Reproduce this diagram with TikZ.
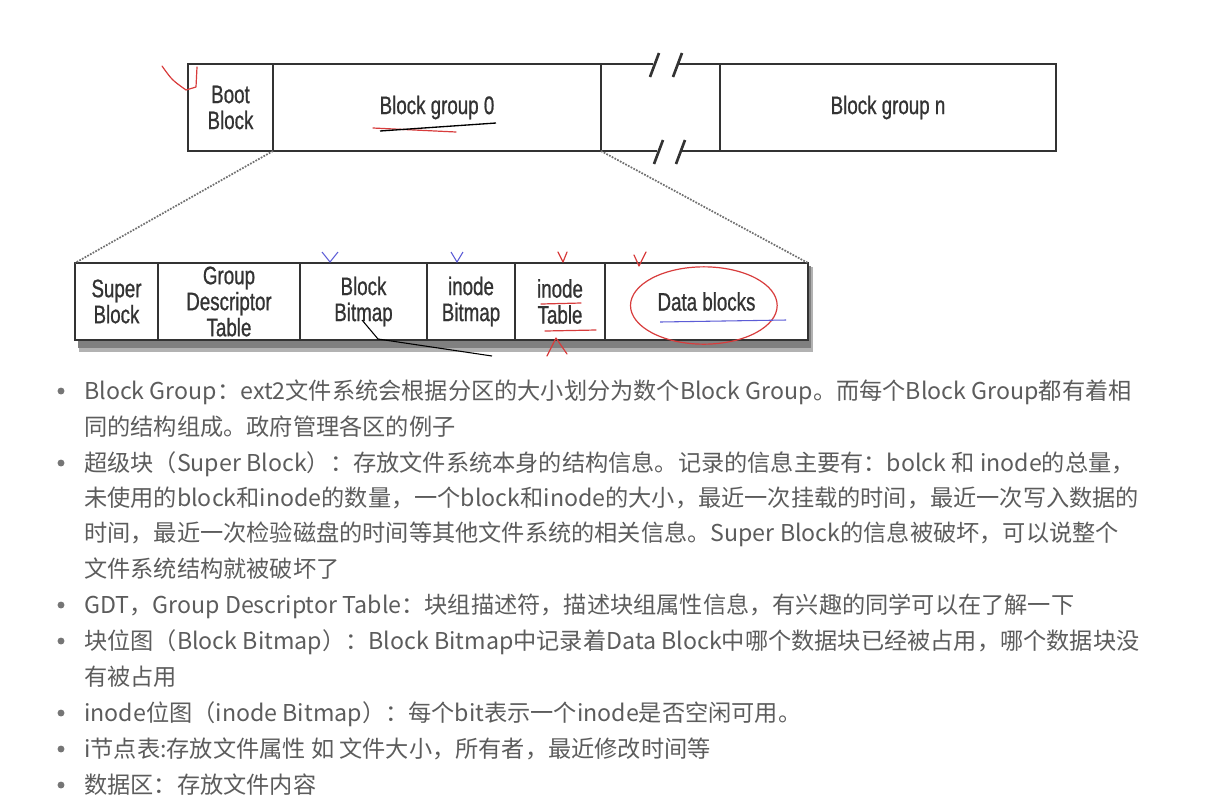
\documentclass[tikz,border=0pt]{standalone}
\usepackage{fontspec}
\newfontfamily\cjk{Noto Sans CJK SC}
\newfontfamily\narrow[FakeStretch=0.74, FakeBold=0.8]{Liberation Sans}
\usepackage{xcolor}
\definecolor{ink}{HTML}{333333}
\definecolor{prose}{HTML}{5C5C5C}
\definecolor{pen}{HTML}{D83C3C}
\definecolor{bluepen}{HTML}{5C5CD6}
\usetikzlibrary{positioning}
\tikzset{
  cell/.style={draw=ink, line width=2pt, fill=white, align=center, inner sep=0pt, outer sep=0pt,
    font=\narrow\fontsize{19}{19.5}\selectfont, text=ink},
  toprow/.style={cell, minimum height=65.25pt},
  lowrow/.style={cell, minimum height=57.75pt},
  rule/.style={draw=ink, line width=2pt},
  zoomline/.style={densely dotted, line width=1.3pt, draw=ink!70},
  para/.style={anchor=base west, inner sep=0pt, font=\cjk\fontsize{17.4}{17}\selectfont, text=prose},
  scribble/.style={draw=pen, line width=0.9pt, line cap=round, line join=round},
}

\begin{document}
\begin{tikzpicture}[x=0.75pt, y=-0.75pt]
  \useasboundingbox (0,0) rectangle (1209,808);

  % partition: boot block and the block groups
  \node[toprow, minimum width=63.75pt] (boot) at (230.5,107.5) {Boot\\Block};
  \node[toprow, minimum width=246pt, right=0pt of boot] (bg0) {Block group 0};
  \node[toprow, minimum width=252pt] (bgn) at (888,107.5) {Block group n};

  \coordinate (tl) at (653,64);  \coordinate (tr) at (677,64);
  \coordinate (bl) at (657,151); \coordinate (br) at (680,151);
  \draw[rule] (bg0.north east) -- (tl);
  \draw[rule] (tr) -- (bgn.north west);
  \draw[rule] (bg0.south east) -- (bl);
  \draw[rule] (br) -- (bgn.south west);
  \draw[rule] (650,77) -- (659,53);  \draw[rule] (673,77) -- (682,53);
  \draw[rule] (654,164) -- (663,140); \draw[rule] (676,164) -- (685,140);

  % one block group, in detail
  \fill[black!30] (79,267) rectangle (813,352);
  \fill[black!50] (78,266) rectangle (811,348);
  \node[lowrow, minimum width=62.25pt] (sb) at (116.5,301.5) {Super\\Block};
  \node[lowrow, minimum width=106.5pt, right=0pt of sb] (gdt) {Group\\Descriptor\\Table};
  \node[lowrow, minimum width=95.25pt, right=0pt of gdt] (bbm) {Block\\Bitmap};
  \node[lowrow, minimum width=66pt, right=0pt of bbm] (ibm) {inode\\Bitmap};
  \node[lowrow, minimum width=67.5pt, right=0pt of ibm] (itab) {inode\\Table};
  \node[lowrow, minimum width=152.25pt, right=0pt of itab] (data) {Data blocks};

  \draw[zoomline] (bg0.south west) -- (sb.north west);
  \draw[zoomline] (bg0.south east) -- (data.north east);

  % pen marks
  \draw[scribble] (162,66) .. controls (172,80) .. (186,90) -- (196,87) -- (197,67);
  \draw[scribble] (373,128) -- (456,132);
  \draw[draw=black, line width=1pt] (380,131) -- (496,123);
  \draw[scribble] ([xshift=-2pt, yshift=-3pt]data.center) ellipse [x radius=55pt, y radius=29pt];
  \draw[draw=bluepen, line width=0.8pt] (660,322) -- (786,320);
  \draw[scribble] (541,304) -- (581,303);
  \draw[scribble] (545,331) -- (596,330);
  \draw[scribble] (547,356) -- (556,338) -- (567,354);
  \draw[draw=black, line width=0.8pt] (362,320) -- (378,339) -- (492,356);
  \draw[draw=bluepen, line width=0.8pt] (322,252) -- (330,262) -- (338,252);
  \draw[draw=bluepen, line width=0.8pt] (451,252) -- (457,262) -- (463,252);
  \draw[scribble] (558,252) -- (563,262) -- (567,252);
  \draw[scribble] (634,255) -- (639,266) -- (646,252);

  % notes
  \foreach \y in {391,463,605,641,713,749,785}
    \fill[prose!85] (61,\y) circle [radius=2.6pt];

  \node[para] (l1) at (84,399.6) {Block Group：ext2文件系统会根据分区的大小划分为数个Block Group。而每个Block Group都有着相};
  \node[para] (l2) at (84,435.6) {同的结构组成。政府管理各区的例子};
  \node[para] (l3) at (84,471.6) {超级块（Super Block）：存放文件系统本身的结构信息。记录的信息主要有：bolck 和 inode的总量，};
  \node[para] (l4) at (84,506.6) {未使用的block和inode的数量，一个block和inode的大小，最近一次挂载的时间，最近一次写入数据的};
  \node[para] (l5) at (84,541.6) {时间，最近一次检验磁盘的时间等其他文件系统的相关信息。Super Block的信息被破坏，可以说整个};
  \node[para] (l6) at (84,577.6) {文件系统结构就被破坏了};
  \node[para] (l7) at (84,613.6) {GDT，Group Descriptor Table：块组描述符，描述块组属性信息，有兴趣的同学可以在了解一下};
  \node[para] (l8) at (84,649.6) {块位图（Block Bitmap）：Block Bitmap中记录着Data Block中哪个数据块已经被占用，哪个数据块没};
  \node[para] (l9) at (84,685.6) {有被占用};
  \node[para] (l10) at (84,721.6) {inode位图（inode Bitmap）：每个bit表示一个inode是否空闲可用。};
  \node[para] (l11) at (84,757.6) {i节点表:存放文件属性 如 文件大小，所有者，最近修改时间等};
  \node[para] (l12) at (84,793.6) {数据区：存放文件内容};
\end{tikzpicture}
\end{document}
